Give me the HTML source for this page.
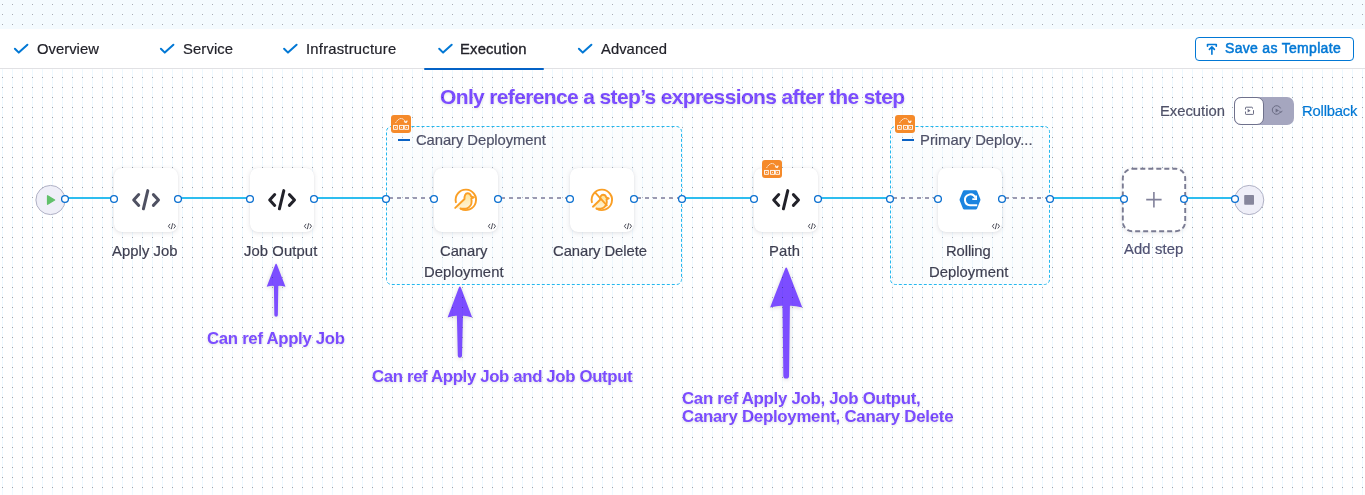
<!DOCTYPE html>
<html><head><meta charset="utf-8">
<style>
*{box-sizing:border-box;margin:0;padding:0}
html,body{width:1365px;height:495px;overflow:hidden;background:#fff;font-family:"Liberation Sans",sans-serif}
#top{position:absolute;left:0;top:0;width:1365px;height:29px;background-color:#f4fbff;
 background-image:radial-gradient(circle at 2.5px 4.5px,#a9adb5 0.6px,transparent 0.9px);background-size:10px 10px}
#hdr{position:absolute;left:0;top:29px;width:1365px;height:40px;background:#fff;border-bottom:1px solid #e1e1e4;box-shadow:0 1px 2px rgba(0,0,0,.05)}
#canvas{position:absolute;left:0;top:69px;width:1365px;height:426px;background-color:#fff;
 background-image:radial-gradient(circle at 2.5px 8.5px,#9ea2aa 0.6px,transparent 0.9px),linear-gradient(90deg,transparent 2px,#eef9ff 2px,#eef9ff 3px,transparent 3px);
 background-size:10px 10px,10px 10px}
.card{position:absolute;top:168px;width:64px;height:64px;background:#fff;border-radius:8px;box-shadow:0 0 1px rgba(40,41,61,.08),0 1px 4px rgba(96,97,112,.18)}
.tx{position:absolute;white-space:nowrap;line-height:1.2;-webkit-font-smoothing:antialiased;will-change:transform}
#satb{position:absolute;left:1195px;top:37px;width:159px;height:24px;border:1px solid #0278d5;border-radius:4px}

</style></head><body>
<div id="top"></div>
<div id="hdr"></div>
<div id="canvas"></div>
<svg style="position:absolute;left:0;top:0" width="700" height="70" viewBox="0 0 700 70"><g fill="none" stroke="#0278d5" stroke-width="2" stroke-linecap="round" stroke-linejoin="round"><path d="M14.9 48.7L18.8 52.6L27.4 44.7"/><path d="M160.9 48.7L164.8 52.6L173.4 44.7"/><path d="M284.09999999999997 48.7L288.0 52.6L296.59999999999997 44.7"/><path d="M439.2 48.7L443.1 52.6L451.7 44.7"/><path d="M578.9 48.7L582.8 52.6L591.4 44.7"/></g></svg>
<div style="position:absolute;left:424px;top:68px;width:120px;height:2px;background:#0462c6;border-radius:1px"></div>
<div id="satb"><svg style="position:absolute;left:10px;top:5px" width="12" height="13" viewBox="0 0 12 13"><path d="M1.5 3.3V1.5H10.3V3.3M5.9 11.2V4.4M3.4 6.4L5.9 3.9L8.4 6.4" fill="none" stroke="#0278d5" stroke-width="1.6" stroke-linecap="round" stroke-linejoin="round"/></svg></div>
<div style="position:absolute;left:1234px;top:97px;width:60px;height:28px;border-radius:7px;background:#a5a6bf"></div>
<div style="position:absolute;left:1234px;top:97px;width:30px;height:28px;border-radius:7px;background:#fff;border:1.2px solid #6f718c"></div>
<svg style="position:absolute;left:1234px;top:97px" width="60" height="28" viewBox="0 0 60 28"><g fill="none" stroke="#6b6d85" stroke-width="1"><path d="M11.5 12.5V10.8Q11.5 10.2 12.1 10.2H17.9Q18.5 10.2 18.5 10.8V11.6M11.5 14.5V16.8Q11.5 17.4 12.1 17.4H18.9Q19.5 17.4 19.5 16.8V13.2"/></g><path d="M13.6 11.8V15.6L16.6 13.7Z" fill="#6b6d85"/><g fill="none" stroke="#6b6d85" stroke-width="1"><path d="M46.6 14.6A4.3 4.3 0 1 1 46.6 11.4"/><path d="M45.4 14.2L47 15.6L48.2 13.8"/></g><path d="M41.6 11.4V15.6L45 13.5Z" fill="#6b6d85"/></svg>
<svg style="position:absolute;left:0;top:0" width="1365" height="495" viewBox="0 0 1365 495"><rect x="386.5" y="126.5" width="295" height="158" rx="5" fill="rgba(240,246,252,.2)" stroke="#25b9ef" stroke-width="1" stroke-dasharray="3 2"/><rect x="890.5" y="126.5" width="159" height="158" rx="5" fill="rgba(240,246,252,.2)" stroke="#25b9ef" stroke-width="1" stroke-dasharray="3 2"/></svg>
<div style="position:absolute;left:398px;top:139px;width:11.5px;height:2px;background:#0b62c4"></div>
<div style="position:absolute;left:902px;top:139px;width:11.5px;height:2px;background:#0b62c4"></div>
<svg style="position:absolute;left:0;top:0" width="1365" height="495" viewBox="0 0 1365 495">
<line x1="65" y1="198" x2="114" y2="198" stroke="#2dbdef" stroke-width="2"/>
<line x1="178" y1="198" x2="250" y2="198" stroke="#2dbdef" stroke-width="2"/>
<line x1="314" y1="198" x2="386" y2="198" stroke="#2dbdef" stroke-width="2"/>
<line x1="682" y1="198" x2="754" y2="198" stroke="#2dbdef" stroke-width="2"/>
<line x1="818" y1="198" x2="890" y2="198" stroke="#2dbdef" stroke-width="2"/>
<line x1="1050" y1="198" x2="1122" y2="198" stroke="#2dbdef" stroke-width="2"/>
<line x1="1186" y1="198" x2="1235" y2="198" stroke="#2dbdef" stroke-width="2"/>
<line x1="389" y1="198" x2="431" y2="198" stroke="#9a9ab2" stroke-width="2" stroke-dasharray="4 4"/>
<line x1="501" y1="198" x2="567" y2="198" stroke="#9a9ab2" stroke-width="2" stroke-dasharray="4 4"/>
<line x1="637" y1="198" x2="679" y2="198" stroke="#9a9ab2" stroke-width="2" stroke-dasharray="4 4"/>
<line x1="893" y1="198" x2="935" y2="198" stroke="#9a9ab2" stroke-width="2" stroke-dasharray="4 4"/>
<line x1="1005" y1="198" x2="1047" y2="198" stroke="#9a9ab2" stroke-width="2" stroke-dasharray="4 4"/>
<circle cx="50.5" cy="200" r="14.6" fill="#efeff8" stroke="#b0b1c5" stroke-width="1"/>
<path d="M47.6 195.8v8.4l7-4.2z" fill="#62c16b" stroke="#62c16b" stroke-width="1.4" stroke-linejoin="round"/>
<circle cx="1249.2" cy="200" r="14.6" fill="#efeff8" stroke="#b0b1c5" stroke-width="1"/>
<rect x="1244.2" y="195" width="9.8" height="9.8" rx="0.8" fill="#86869c"/>
<rect x="1122.8" y="168.8" width="62.4" height="62.4" rx="9.5" fill="#fff" stroke="#7a7b92" stroke-width="1.9" stroke-dasharray="5 3" style="filter:drop-shadow(0 1px 2px rgba(96,97,112,.15))"/>
<path d="M1146.2 199.6H1161.6M1153.9 192V207.4" stroke="#80809a" stroke-width="1.6"/>
</svg>
<div class="card" style="left:114px"><svg width="64" height="64" viewBox="0 0 64 64" style="position:absolute;left:0;top:0"><g fill="none" stroke="#4f5162" stroke-width="3" stroke-linecap="round" stroke-linejoin="round"><path d="M24.7 26.6L19.7 32L24.7 37.4"/><path d="M33.8 22.6L29.4 40.8"/><path d="M39.4 26.6L44.5 32L39.4 37.4"/></g></svg><svg width="64" height="64" viewBox="0 0 64 64" style="position:absolute;left:0;top:0"><g fill="none" stroke="#3c3d4a" stroke-width="0.9" stroke-linecap="round" stroke-linejoin="round"><path d="M55.9 56.2L54.4 58.2L55.9 60.2"/><path d="M58.6 55.6L57.4 60.8"/><path d="M60 56.2L61.5 58.2L60 60.2"/></g></svg></div>
<div class="card" style="left:250px"><svg width="64" height="64" viewBox="0 0 64 64" style="position:absolute;left:0;top:0"><g fill="none" stroke="#22222a" stroke-width="3" stroke-linecap="round" stroke-linejoin="round"><path d="M24.7 26.6L19.7 32L24.7 37.4"/><path d="M33.8 22.6L29.4 40.8"/><path d="M39.4 26.6L44.5 32L39.4 37.4"/></g></svg><svg width="64" height="64" viewBox="0 0 64 64" style="position:absolute;left:0;top:0"><g fill="none" stroke="#3c3d4a" stroke-width="0.9" stroke-linecap="round" stroke-linejoin="round"><path d="M55.9 56.2L54.4 58.2L55.9 60.2"/><path d="M58.6 55.6L57.4 60.8"/><path d="M60 56.2L61.5 58.2L60 60.2"/></g></svg></div>
<div class="card" style="left:434px"><svg width="64" height="64" viewBox="0 0 64 64" style="position:absolute;left:0;top:0"><defs><linearGradient id="cg1" x1="0" y1="0" x2="0.2" y2="1"><stop offset="0" stop-color="#ffe08a"/><stop offset="1" stop-color="#fff3d6"/></linearGradient></defs><g transform="translate(18.1,18.1)" fill="none" stroke="#fa9f25" stroke-width="1.9" stroke-linecap="round" stroke-linejoin="round"><path d="M3.1 21.8L12.4 12.9C12.2 9.6 13.4 7.1 15.4 7.1C17.3 7.1 18.6 8.6 19 10.2L21.8 11.2L19.2 12.4C19.9 15.5 19.3 19.5 16.5 21.4C15.5 22.2 14.5 22.6 13.3 22.7L8.5 22.55Z" fill="url(#cg1)" stroke="none"/><path d="M3.82 16.07A10.2 10.2 0 1 1 8.5 22.49"/><path d="M3.1 21.8L12.4 12.9C12.2 9.6 13.4 7.1 15.4 7.1C17.3 7.1 18.6 8.6 19 10.2L21.8 11.2L19.2 12.4C19.9 15.5 19.3 19.5 16.5 21.4C15.5 22.2 14.5 22.6 13.3 22.7L8.5 22.55"/></g></svg><svg width="64" height="64" viewBox="0 0 64 64" style="position:absolute;left:0;top:0"><g fill="none" stroke="#3c3d4a" stroke-width="0.9" stroke-linecap="round" stroke-linejoin="round"><path d="M55.9 56.2L54.4 58.2L55.9 60.2"/><path d="M58.6 55.6L57.4 60.8"/><path d="M60 56.2L61.5 58.2L60 60.2"/></g></svg></div>
<div class="card" style="left:570px"><svg width="64" height="64" viewBox="0 0 64 64" style="position:absolute;left:0;top:0"><defs><linearGradient id="cg2" x1="0" y1="0" x2="0.2" y2="1"><stop offset="0" stop-color="#ffe08a"/><stop offset="1" stop-color="#fff3d6"/></linearGradient></defs><g transform="translate(18.1,18.1)" fill="none" stroke="#fa9f25" stroke-width="1.9" stroke-linecap="round" stroke-linejoin="round"><path d="M4.8 20.6L12 13.6C11.9 10.8 13 8.6 14.9 8.6C16.6 8.6 17.8 9.9 18.2 11.3L20.6 12.2L18.4 13.3C19 16 18.5 19.4 16 21.1C15.1 21.8 14.2 22.2 13.1 22.3L8.5 22.55Z" fill="url(#cg2)" stroke="none"/><path d="M3.82 16.07A10.2 10.2 0 1 1 8.5 22.49"/><path d="M4.8 20.6L12 13.6C11.9 10.8 13 8.6 14.9 8.6C16.6 8.6 17.8 9.9 18.2 11.3L20.6 12.2L18.4 13.3C19 16 18.5 19.4 16 21.1C15.1 21.8 14.2 22.2 13.1 22.3L8.5 22.55"/><path d="M7.4 6.8L18.7 19.2"/></g></svg><svg width="64" height="64" viewBox="0 0 64 64" style="position:absolute;left:0;top:0"><g fill="none" stroke="#3c3d4a" stroke-width="0.9" stroke-linecap="round" stroke-linejoin="round"><path d="M55.9 56.2L54.4 58.2L55.9 60.2"/><path d="M58.6 55.6L57.4 60.8"/><path d="M60 56.2L61.5 58.2L60 60.2"/></g></svg></div>
<div class="card" style="left:754px"><svg width="64" height="64" viewBox="0 0 64 64" style="position:absolute;left:0;top:0"><g fill="none" stroke="#22222a" stroke-width="3" stroke-linecap="round" stroke-linejoin="round"><path d="M24.7 26.6L19.7 32L24.7 37.4"/><path d="M33.8 22.6L29.4 40.8"/><path d="M39.4 26.6L44.5 32L39.4 37.4"/></g></svg><svg width="64" height="64" viewBox="0 0 64 64" style="position:absolute;left:0;top:0"><g fill="none" stroke="#3c3d4a" stroke-width="0.9" stroke-linecap="round" stroke-linejoin="round"><path d="M55.9 56.2L54.4 58.2L55.9 60.2"/><path d="M58.6 55.6L57.4 60.8"/><path d="M60 56.2L61.5 58.2L60 60.2"/></g></svg></div>
<div class="card" style="left:938px"><svg width="64" height="64" viewBox="0 0 64 64" style="position:absolute;left:0;top:0"><g transform="translate(-938,-168)"><path d="M964.2 190.2H975.8Q976.6 190.2 977 190.9L980.3 199.1Q980.6 199.8 980.3 200.5L977 208.7Q976.6 209.4 975.8 209.4H964.2Q963.4 209.4 963 208.7L959.7 200.5Q959.4 199.8 959.7 199.1L963 190.9Q963.4 190.2 964.2 190.2Z" fill="#1b84e0"/><path d="M975.3 197.6A5.4 5.4 0 1 0 970 205.2H977.2" fill="none" stroke="#fff" stroke-width="2" stroke-linecap="butt"/><path d="M976.1 195.4V199.2H972.3" fill="none" stroke="#fff" stroke-width="1.8" stroke-linejoin="miter"/></g></svg><svg width="64" height="64" viewBox="0 0 64 64" style="position:absolute;left:0;top:0"><g fill="none" stroke="#3c3d4a" stroke-width="0.9" stroke-linecap="round" stroke-linejoin="round"><path d="M55.9 56.2L54.4 58.2L55.9 60.2"/><path d="M58.6 55.6L57.4 60.8"/><path d="M60 56.2L61.5 58.2L60 60.2"/></g></svg></div>
<svg style="position:absolute;left:391px;top:115px" width="20" height="18" viewBox="0 0 20 18"><rect x="0" y="0" width="20" height="18" rx="3" fill="#f58a2a"/><path d="M4.6 7.9Q9.7 -0.3 14.8 6.9" fill="none" stroke="#fff" stroke-width="1" stroke-dasharray="1.4 0.7"/><path d="M13 6.6L15.1 7.6L16.3 5.6" fill="none" stroke="#fff" stroke-width="1.1"/><g fill="none" stroke="#fff" stroke-width="0.9"><rect x="2.6" y="10.4" width="3.7" height="3.9"/><rect x="8.6" y="10.4" width="3.9" height="3.9"/><rect x="13.7" y="10.4" width="3.7" height="3.9"/></g><g fill="#fff"><rect x="4" y="11.9" width="0.9" height="0.9"/><rect x="10.1" y="11.9" width="0.9" height="0.9"/><rect x="15.1" y="11.9" width="0.9" height="0.9"/></g></svg>
<svg style="position:absolute;left:762px;top:160px" width="20" height="18" viewBox="0 0 20 18"><rect x="0" y="0" width="20" height="18" rx="3" fill="#f58a2a"/><path d="M4.6 7.9Q9.7 -0.3 14.8 6.9" fill="none" stroke="#fff" stroke-width="1" stroke-dasharray="1.4 0.7"/><path d="M13 6.6L15.1 7.6L16.3 5.6" fill="none" stroke="#fff" stroke-width="1.1"/><g fill="none" stroke="#fff" stroke-width="0.9"><rect x="2.6" y="10.4" width="3.7" height="3.9"/><rect x="8.6" y="10.4" width="3.9" height="3.9"/><rect x="13.7" y="10.4" width="3.7" height="3.9"/></g><g fill="#fff"><rect x="4" y="11.9" width="0.9" height="0.9"/><rect x="10.1" y="11.9" width="0.9" height="0.9"/><rect x="15.1" y="11.9" width="0.9" height="0.9"/></g></svg>
<svg style="position:absolute;left:895px;top:115px" width="20" height="18" viewBox="0 0 20 18"><rect x="0" y="0" width="20" height="18" rx="3" fill="#f58a2a"/><path d="M4.6 7.9Q9.7 -0.3 14.8 6.9" fill="none" stroke="#fff" stroke-width="1" stroke-dasharray="1.4 0.7"/><path d="M13 6.6L15.1 7.6L16.3 5.6" fill="none" stroke="#fff" stroke-width="1.1"/><g fill="none" stroke="#fff" stroke-width="0.9"><rect x="2.6" y="10.4" width="3.7" height="3.9"/><rect x="8.6" y="10.4" width="3.9" height="3.9"/><rect x="13.7" y="10.4" width="3.7" height="3.9"/></g><g fill="#fff"><rect x="4" y="11.9" width="0.9" height="0.9"/><rect x="10.1" y="11.9" width="0.9" height="0.9"/><rect x="15.1" y="11.9" width="0.9" height="0.9"/></g></svg>
<svg style="position:absolute;left:0;top:0" width="1365" height="495" viewBox="0 0 1365 495">
<circle cx="65" cy="199" r="3.4" fill="#fff" stroke="#0a6fd0" stroke-width="1.3"/>
<circle cx="114" cy="199" r="3.4" fill="#fff" stroke="#0a6fd0" stroke-width="1.3"/>
<circle cx="178" cy="199" r="3.4" fill="#fff" stroke="#0a6fd0" stroke-width="1.3"/>
<circle cx="250" cy="199" r="3.4" fill="#fff" stroke="#0a6fd0" stroke-width="1.3"/>
<circle cx="314" cy="199" r="3.4" fill="#fff" stroke="#0a6fd0" stroke-width="1.3"/>
<circle cx="386" cy="199" r="3.4" fill="#fff" stroke="#0a6fd0" stroke-width="1.3"/>
<circle cx="434" cy="199" r="3.4" fill="#fff" stroke="#0a6fd0" stroke-width="1.3"/>
<circle cx="498" cy="199" r="3.4" fill="#fff" stroke="#0a6fd0" stroke-width="1.3"/>
<circle cx="570" cy="199" r="3.4" fill="#fff" stroke="#0a6fd0" stroke-width="1.3"/>
<circle cx="634" cy="199" r="3.4" fill="#fff" stroke="#0a6fd0" stroke-width="1.3"/>
<circle cx="682" cy="199" r="3.4" fill="#fff" stroke="#0a6fd0" stroke-width="1.3"/>
<circle cx="754" cy="199" r="3.4" fill="#fff" stroke="#0a6fd0" stroke-width="1.3"/>
<circle cx="818" cy="199" r="3.4" fill="#fff" stroke="#0a6fd0" stroke-width="1.3"/>
<circle cx="890" cy="199" r="3.4" fill="#fff" stroke="#0a6fd0" stroke-width="1.3"/>
<circle cx="938" cy="199" r="3.4" fill="#fff" stroke="#0a6fd0" stroke-width="1.3"/>
<circle cx="1002" cy="199" r="3.4" fill="#fff" stroke="#0a6fd0" stroke-width="1.3"/>
<circle cx="1050" cy="199" r="3.4" fill="#fff" stroke="#0a6fd0" stroke-width="1.3"/>
<circle cx="1124" cy="199" r="3.4" fill="#fff" stroke="#0a6fd0" stroke-width="1.3"/>
<circle cx="1184" cy="199" r="3.4" fill="#fff" stroke="#0a6fd0" stroke-width="1.3"/>
<circle cx="1235" cy="199" r="3.4" fill="#fff" stroke="#0a6fd0" stroke-width="1.3"/>
</svg>
<div id="tOverview" class="tx" style="left:36.83px;top:40.60px;font-size:14.80px;font-weight:400;letter-spacing:0.029px;color:#22222a;-webkit-text-stroke:.2px #22222a;">Overview</div>
<div id="tService" class="tx" style="left:182.65px;top:40.60px;font-size:14.80px;font-weight:400;letter-spacing:0.121px;color:#22222a;-webkit-text-stroke:.2px #22222a;">Service</div>
<div id="tInfra" class="tx" style="left:305.54px;top:40.60px;font-size:14.80px;font-weight:400;letter-spacing:0.228px;color:#22222a;-webkit-text-stroke:.2px #22222a;">Infrastructure</div>
<div id="tExec" class="tx" style="left:460.16px;top:40.61px;font-size:14.80px;font-weight:400;letter-spacing:0.181px;color:#22222a;-webkit-text-stroke:.35px #22222a;">Execution</div>
<div id="tAdv" class="tx" style="left:601.19px;top:40.60px;font-size:14.80px;font-weight:400;letter-spacing:0.040px;color:#22222a;-webkit-text-stroke:.2px #22222a;">Advanced</div>
<div id="lApply" class="tx" style="left:111.99px;top:242.81px;font-size:14.80px;font-weight:400;letter-spacing:0.076px;color:#3d3e50;-webkit-text-stroke:.2px #3d3e50;">Apply Job</div>
<div id="lJobOut" class="tx" style="left:243.89px;top:243.01px;font-size:14.80px;font-weight:400;letter-spacing:0.099px;color:#3d3e50;-webkit-text-stroke:.2px #3d3e50;">Job Output</div>
<div id="lCan1" class="tx" style="left:440.44px;top:242.71px;font-size:14.80px;font-weight:400;letter-spacing:-0.057px;color:#3d3e50;-webkit-text-stroke:.2px #3d3e50;">Canary</div>
<div id="lDep1" class="tx" style="left:424.30px;top:263.90px;font-size:14.80px;font-weight:400;letter-spacing:0.064px;color:#3d3e50;-webkit-text-stroke:.2px #3d3e50;">Deployment</div>
<div id="lCanDel" class="tx" style="left:553.38px;top:242.81px;font-size:14.80px;font-weight:400;letter-spacing:-0.054px;color:#3d3e50;-webkit-text-stroke:.2px #3d3e50;">Canary Delete</div>
<div id="lPath" class="tx" style="left:769.15px;top:242.81px;font-size:14.80px;font-weight:400;letter-spacing:0.160px;color:#3d3e50;-webkit-text-stroke:.2px #3d3e50;">Path</div>
<div id="lRoll" class="tx" style="left:946.14px;top:242.81px;font-size:14.80px;font-weight:400;letter-spacing:-0.093px;color:#3d3e50;-webkit-text-stroke:.2px #3d3e50;">Rolling</div>
<div id="lDep2" class="tx" style="left:928.85px;top:263.90px;font-size:14.80px;font-weight:400;letter-spacing:0.036px;color:#3d3e50;-webkit-text-stroke:.2px #3d3e50;">Deployment</div>
<div id="lAdd" class="tx" style="left:1124.19px;top:240.90px;font-size:14.80px;font-weight:400;letter-spacing:0.127px;color:#4f5172;-webkit-text-stroke:.2px #4f5172;">Add step</div>
<div id="gCan" class="tx" style="left:415.54px;top:131.71px;font-size:14.80px;font-weight:400;letter-spacing:-0.063px;color:#4f5168;-webkit-text-stroke:.2px #4f5168;">Canary Deployment</div>
<div id="gPrim" class="tx" style="left:919.86px;top:131.71px;font-size:14.80px;font-weight:400;letter-spacing:0.008px;color:#4f5168;-webkit-text-stroke:.2px #4f5168;">Primary Deploy...</div>
<div id="rExec" class="tx" style="left:1159.87px;top:102.81px;font-size:14.80px;font-weight:400;letter-spacing:-0.013px;color:#4f5168;-webkit-text-stroke:.2px #4f5168;">Execution</div>
<div id="rRoll" class="tx" style="left:1301.64px;top:102.81px;font-size:14.80px;font-weight:400;letter-spacing:-0.187px;color:#0278d5;-webkit-text-stroke:.2px #0278d5;">Rollback</div>
<div id="sat" class="tx" style="left:1224.70px;top:40.30px;font-size:14.00px;font-weight:400;letter-spacing:0.310px;color:#0278d5;-webkit-text-stroke:.5px #0278d5;">Save as Template</div>
<div id="aTitle" class="tx" style="left:439.97px;top:83.71px;font-size:21.00px;font-weight:700;letter-spacing:-0.641px;color:#7c4dff;text-shadow:0 1px 3px rgba(0,0,0,.13);mix-blend-mode:multiply;">Only reference a step’s expressions after the step</div>
<div id="a1" class="tx" style="left:206.70px;top:329.11px;font-size:16.80px;font-weight:700;letter-spacing:-0.307px;color:#7c4dff;text-shadow:0 1px 3px rgba(0,0,0,.13);mix-blend-mode:multiply;">Can ref Apply Job</div>
<div id="a2" class="tx" style="left:371.68px;top:366.91px;font-size:16.80px;font-weight:700;letter-spacing:-0.353px;color:#7c4dff;text-shadow:0 1px 3px rgba(0,0,0,.13);mix-blend-mode:multiply;">Can ref Apply Job and Job Output</div>
<div id="a3a" class="tx" style="left:681.50px;top:389.11px;font-size:16.80px;font-weight:700;letter-spacing:-0.267px;color:#7c4dff;text-shadow:0 1px 3px rgba(0,0,0,.13);mix-blend-mode:multiply;">Can ref Apply Job, Job Output,</div>
<div id="a3b" class="tx" style="left:681.50px;top:406.71px;font-size:16.80px;font-weight:700;letter-spacing:-0.237px;color:#7c4dff;text-shadow:0 1px 3px rgba(0,0,0,.13);mix-blend-mode:multiply;">Canary Deployment, Canary Delete</div>
<svg style="position:absolute;left:0;top:0;filter:drop-shadow(0 1px 2px rgba(0,0,0,.16));mix-blend-mode:multiply" width="1365" height="495" viewBox="0 0 1365 495">
<path d="M276.1 263.8C276.5 263.8 276.90000000000003 264.40000000000003 277.1 265.0L285.5 286.8Q280.8 285.5 278.3 285.9L277.85 315.05A1.75 1.75 0 0 1 274.35 315.05L273.90000000000003 285.9Q271.40000000000003 285.5 266.70000000000005 286.8L275.1 265.0C275.3 264.40000000000003 275.70000000000005 263.8 276.1 263.8Z" fill="#7c4dff"/>
<path d="M459.9 286.4C460.29999999999995 286.4 460.7 287.0 460.9 287.59999999999997L472.2 317.6Q466.04999999999995 315.40000000000003 462.9 315.8L462.0 355.7A2.1 2.1 0 0 1 457.79999999999995 355.7L456.9 315.8Q453.75 315.40000000000003 447.59999999999997 317.6L458.9 287.59999999999997C459.09999999999997 287.0 459.5 286.4 459.9 286.4Z" fill="#7c4dff"/>
<path d="M786.2 267.4C786.6 267.4 787.0 268.0 787.2 268.59999999999997L802.3000000000001 307.6Q794.25 305.40000000000003 789.9000000000001 305.8L789.0500000000001 375.75A2.85 2.85 0 0 1 783.35 375.75L782.5 305.8Q778.1500000000001 305.40000000000003 770.1 307.6L785.2 268.59999999999997C785.4000000000001 268.0 785.8000000000001 267.4 786.2 267.4Z" fill="#7c4dff"/>
</svg>
</body></html>
